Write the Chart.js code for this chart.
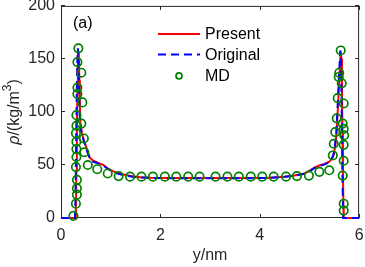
<!DOCTYPE html>
<html>
<head>
<meta charset="utf-8">
<script src="https://cdn.jsdelivr.net/npm/chart.js@4.4.0/dist/chart.umd.min.js"></script>
<style>
  html, body { margin: 0; padding: 0; background: #fff; }
  #wrap { width: 365px; height: 267px; }
</style>
</head>
<body>
<div id="wrap"><canvas id="densityChart" width="365" height="267"></canvas></div>
<script>
// ---- data ----
const presentX = [0, 0.29, 0.30, 0.31, 0.32, 0.33, 0.34, 0.35, 0.36, 0.37, 0.38, 0.39, 0.42, 0.46, 0.50, 0.54, 0.58, 0.65, 0.75, 0.85, 0.95, 1.05, 1.17, 1.30, 1.44, 1.60, 1.80, 2.20, 2.60, 3.00, 3.40, 3.80, 4.20, 4.50, 4.70, 4.90, 5.00, 5.10, 5.20, 5.30, 5.40, 5.45, 5.49, 5.52, 5.55, 5.58, 5.61, 5.63, 5.645, 5.655, 5.665, 5.675, 5.685, 5.69, 6.00];
const presentY = [0, 0, 10, 45, 85, 120, 145, 157, 150, 130, 105, 90, 80, 73, 68, 62, 57, 54, 52, 50, 46.5, 44, 42, 40.5, 39.3, 38.5, 38, 37.8, 37.8, 37.8, 37.8, 37.8, 38, 39, 40, 42, 44.5, 47.5, 49.5, 51, 53, 56, 60, 68, 82, 110, 140, 157, 150, 120, 80, 40, 10, 0, 0];

const originalX = [0, 0.28, 0.29, 0.30, 0.31, 0.32, 0.33, 0.34, 0.35, 0.36, 0.37, 0.38, 0.41, 0.45, 0.50, 0.54, 0.58, 0.65, 0.75, 0.85, 0.95, 1.05, 1.17, 1.30, 1.44, 1.60, 1.80, 2.20, 2.60, 3.00, 3.40, 3.80, 4.20, 4.50, 4.70, 4.90, 5.00, 5.10, 5.20, 5.30, 5.40, 5.45, 5.48, 5.51, 5.54, 5.57, 5.60, 5.62, 5.635, 5.645, 5.655, 5.665, 5.675, 5.68, 6.00];
const originalY = [0, 0, 15, 50, 90, 125, 150, 160, 150, 128, 105, 92, 81, 74, 67, 61, 56, 53, 51.5, 49.5, 46, 43.5, 41.5, 40, 39, 38.3, 37.8, 37.5, 37.5, 37.5, 37.5, 37.5, 37.8, 38.8, 39.8, 41.8, 44, 47, 49, 50.5, 52.5, 55.5, 59, 66, 80, 108, 138, 158, 150, 120, 80, 40, 10, 0, 0];

const mdX = [0.25, 0.30, 0.32, 0.32, 0.32, 0.30, 0.31, 0.31, 0.31, 0.30, 0.31, 0.31, 0.33, 0.33, 0.33, 0.35, 0.41, 0.43, 0.41, 0.46, 0.47, 0.54,
  0.73, 0.94, 1.16, 1.39, 1.62, 1.85, 2.09, 2.32, 2.56, 2.79, 3.11, 3.35, 3.58, 3.82, 4.05, 4.28, 4.53, 4.75, 4.99, 5.20, 5.40,
  5.47, 5.49, 5.52, 5.55, 5.57, 5.59, 5.60, 5.63, 5.65, 5.69, 5.67, 5.69, 5.70, 5.69, 5.69, 5.67, 5.69, 5.69];
const mdY = [2, 13.5, 22, 28, 36, 48, 57.5, 65, 72, 80, 87, 97, 117, 123, 147, 160, 137, 109, 89, 75, 62, 50,
  46, 42, 39.5, 39, 39, 39, 39, 39, 39, 39, 39, 39, 39, 39, 39, 39, 39, 39.5, 40, 43.5, 45,
  59, 70, 81, 94, 113, 133, 137, 158, 127, 108, 89, 84, 78, 69, 54, 40, 13.5, 7];

const xTicks = [0, 2, 4, 6];
const yTicks = [0, 50, 100, 150, 200];

const seriesNames = ['Present', 'Original', 'MD'];
const axisColor = '#262626';
const fontFamily = '"Liberation Sans", Arial, sans-serif';

function toPoints(xs, ys) {
    return xs.map((x, i) => ({ x: x, y: ys[i] }));
}

// box with inward ticks on all four sides
const framePlugin = {
    id: 'frame',
    beforeDatasetsDraw(chart) {
        const ctx = chart.ctx;
        const a = chart.chartArea;
        const xs = chart.scales.x, ys = chart.scales.y;
        const tl = 4;
        ctx.save();
        ctx.strokeStyle = axisColor;
        ctx.lineWidth = 1;
        ctx.strokeRect(a.left + 0.5, a.top + 0.5, a.right - a.left - 1, a.bottom - a.top - 1);
        ctx.beginPath();
        xTicks.forEach(v => {
            const px = Math.round(xs.getPixelForValue(v)) + 0.5;
            ctx.moveTo(px, a.bottom); ctx.lineTo(px, a.bottom - tl);
            ctx.moveTo(px, a.top); ctx.lineTo(px, a.top + tl);
        });
        yTicks.forEach(v => {
            const py = Math.round(ys.getPixelForValue(v)) - 0.5;
            ctx.moveTo(a.left, py); ctx.lineTo(a.left + tl, py);
            ctx.moveTo(a.right, py); ctx.lineTo(a.right - tl, py);
        });
        ctx.stroke();
        ctx.restore();
    }
};

// legend, panel label and the y axis title (mixed italic / superscript)
const annotatePlugin = {
    id: 'annotate',
    afterDraw(chart) {
        const ctx = chart.ctx;
        const a = chart.chartArea;
        const ds = chart.data.datasets;
        ctx.save();
        ctx.font = '16px ' + fontFamily;
        ctx.fillStyle = '#000';
        ctx.textBaseline = 'middle';
        ctx.textAlign = 'left';

        // panel label
        ctx.fillText('(a)', a.left + 12, a.top + 18);

        // legend
        const lx0 = a.left + 97, lx1 = a.left + 139, tx = a.left + 144;
        const rows = [a.top + 28, a.top + 48.5, a.top + 70];
        ds.forEach((d, i) => {
            const y = rows[i];
            if (d.showLine === false) {
                ctx.beginPath();
                ctx.strokeStyle = d.borderColor;
                ctx.lineWidth = d.pointBorderWidth;
                ctx.arc((lx0 + lx1) / 2, y, 3, 0, Math.PI * 2);
                ctx.stroke();
            } else {
                ctx.beginPath();
                ctx.strokeStyle = d.borderColor;
                ctx.lineWidth = d.borderWidth;
                ctx.setLineDash(d.borderDash || []);
                ctx.moveTo(lx0, y);
                ctx.lineTo(lx1, y);
                ctx.stroke();
                ctx.setLineDash([]);
            }
            ctx.fillStyle = '#000';
            ctx.fillText(d.label, tx, y + 1);
        });

        // y title: rho/(kg/m^3)
        const parts = [
            { t: '\u03c1', f: 'italic 16px ' + fontFamily, dy: 0 },
            { t: '/(kg/m', f: '16px ' + fontFamily, dy: 0 },
            { t: '3', f: '12px ' + fontFamily, dy: -7 },
            { t: ')', f: '16px ' + fontFamily, dy: 0 }
        ];
        let total = 0;
        parts.forEach(p => { ctx.font = p.f; p.w = ctx.measureText(p.t).width; total += p.w; });
        ctx.translate(15, (a.top + a.bottom) / 2);
        ctx.rotate(-Math.PI / 2);
        ctx.fillStyle = axisColor;
        let cx = -total / 2;
        parts.forEach(p => {
            ctx.font = p.f;
            ctx.fillText(p.t, cx, p.dy);
            cx += p.w;
        });
        ctx.restore();
    }
};

const ctx = document.getElementById('densityChart').getContext('2d');
new Chart(ctx, {
    type: 'line',
    data: {
        datasets: [
            {
                label: seriesNames[0],
                data: toPoints(presentX, presentY),
                borderColor: '#ff0000',
                borderWidth: 2,
                pointRadius: 0,
                tension: 0,
                clip: false,
                order: 2
            },
            {
                label: seriesNames[1],
                data: toPoints(originalX, originalY),
                borderColor: '#0000ff',
                borderWidth: 2,
                borderDash: [8, 5],
                pointRadius: 0,
                tension: 0,
                clip: false,
                order: 1
            },
            {
                label: seriesNames[2],
                data: toPoints(mdX, mdY),
                showLine: false,
                borderColor: '#008000',
                backgroundColor: 'rgba(0,0,0,0)',
                pointRadius: 4.2,
                pointBorderWidth: 1.7,
                pointBorderColor: '#008000',
                pointBackgroundColor: 'rgba(0,0,0,0)',
                clip: false,
                order: 0
            }
        ]
    },
    options: {
        responsive: false,
        animation: false,
        devicePixelRatio: 1,
        layout: { padding: { top: 5, right: 4, left: 0, bottom: 0 } },
        plugins: {
            legend: { display: false },
            tooltip: { enabled: false }
        },
        scales: {
            x: {
                type: 'linear',
                min: 0,
                max: 6,
                grid: { display: false, drawTicks: false },
                border: { display: false },
                afterBuildTicks: s => { s.ticks = xTicks.map(v => ({ value: v })); },
                afterFit: s => { s.height = 49; s.paddingLeft = 0; s.paddingRight = 0; },
                ticks: {
                    color: axisColor,
                    font: { family: fontFamily, size: 16 },
                    padding: 8,
                    maxRotation: 0
                },
                title: {
                    display: true,
                    text: 'y/nm',
                    color: axisColor,
                    font: { family: fontFamily, size: 16 },
                    padding: { top: 0, bottom: 2 }
                }
            },
            y: {
                type: 'linear',
                min: 0,
                max: 200,
                grid: { display: false, drawTicks: false },
                border: { display: false },
                afterBuildTicks: s => { s.ticks = yTicks.map(v => ({ value: v })); },
                afterFit: s => { s.width = 61; s.paddingTop = 0; s.paddingBottom = 0; },
                ticks: {
                    color: axisColor,
                    font: { family: fontFamily, size: 16 },
                    padding: 6
                }
            }
        }
    },
    plugins: [framePlugin, annotatePlugin]
});
</script>
</body>
</html>
